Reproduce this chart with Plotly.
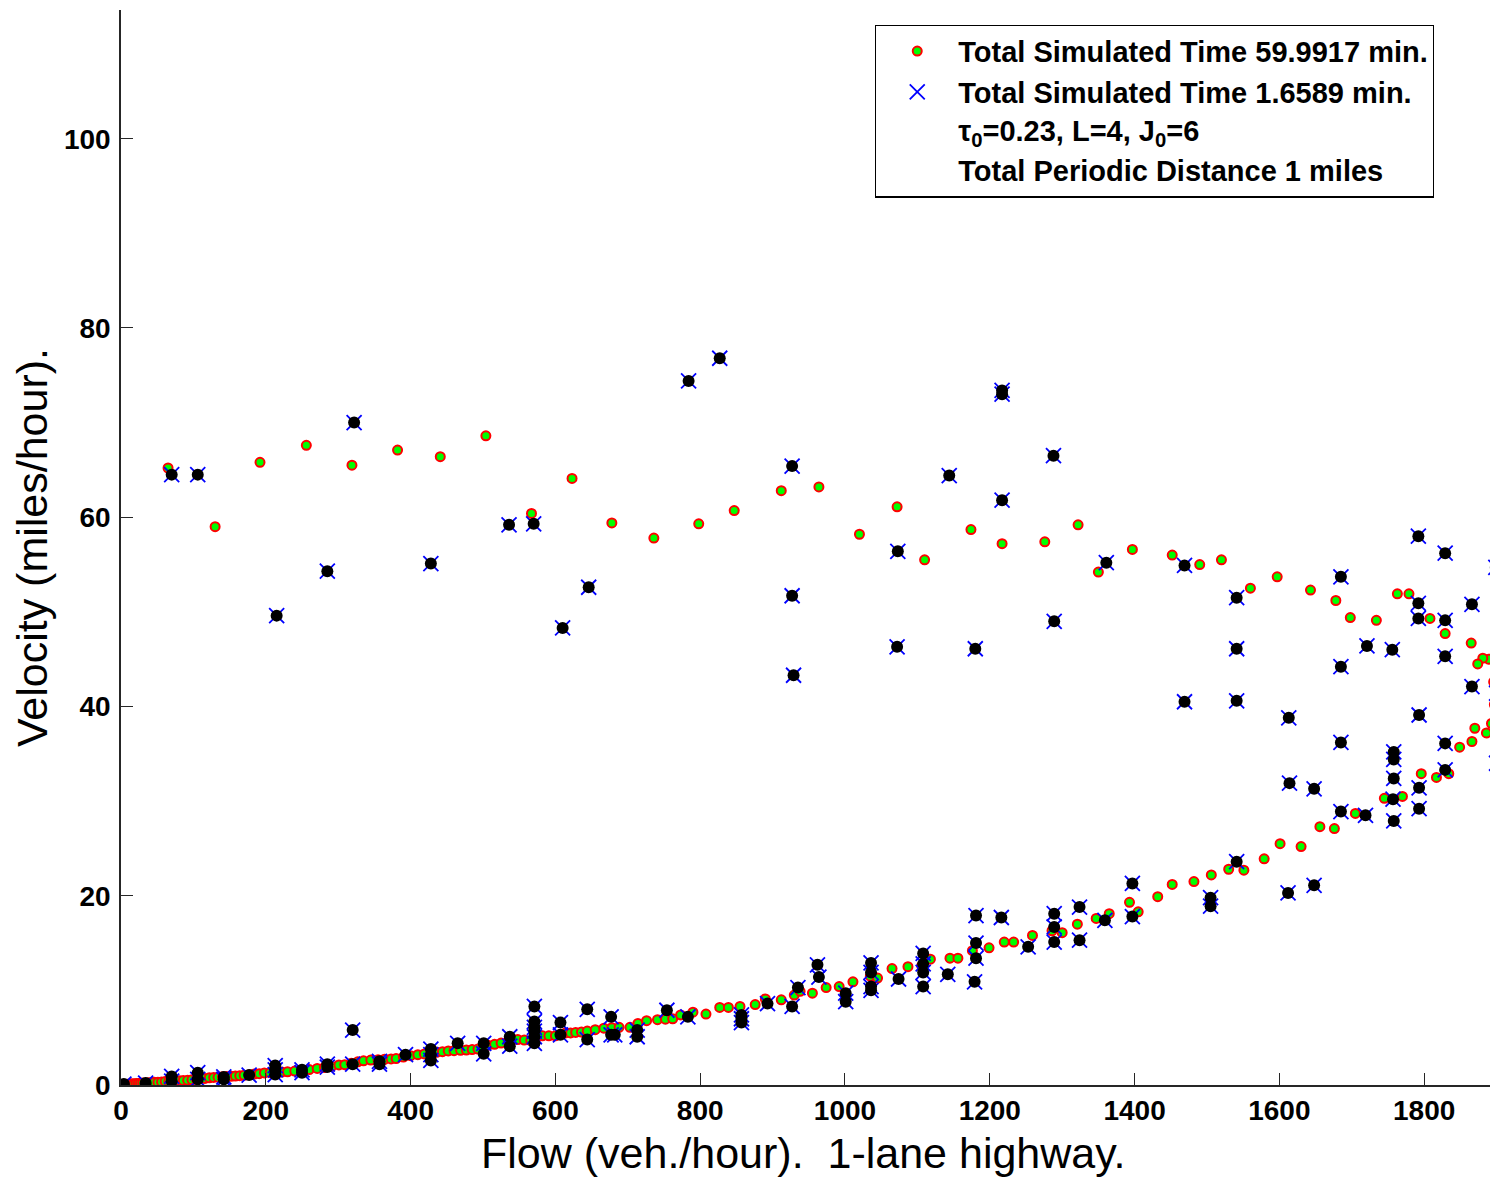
import plotly.graph_objects as go

# Series 1: Total Simulated Time 59.9917 min. (green circles, red edge)
flow_long = [0, 3, 6, 9, 12, 15, 18, 21, 24, 27, 30, 34, 38, 42, 46, 51, 56, 61, 66, 71, 76, 81, 86, 92, 98,
             104, 110, 116, 122, 128, 134, 140, 146, 152, 158, 164, 170, 177, 184, 191, 198, 206, 214, 222, 230,
             240, 250, 260, 271, 281, 291, 301, 309, 318, 327, 335, 345, 355, 364, 373, 380, 390, 400, 410, 419,
             428, 436, 444, 452, 460, 469, 477, 485, 493, 500, 507, 516, 525, 535, 548, 557, 566, 574, 582, 591,
             600, 607, 614, 621, 628, 636, 644, 655, 667, 678, 688, 703, 714, 726, 741, 752, 762, 773, 790, 808,
             827, 839, 855, 876, 890, 912, 930, 938, 955, 974, 992, 1011, 1035, 1045, 1065, 1087, 1106, 1118,
             1145, 1156, 1176, 1199, 1220, 1233, 1259, 1286, 1300, 1321, 1347, 1365, 1393, 1405, 1432, 1452,
             1482, 1506, 1530, 1551, 1579, 1601, 1630, 1656, 1676, 1705, 1745, 1770, 1796, 1817, 1834, 1849,
             1866, 1870, 1886, 1893, 1897, 1899,
             1899, 1896, 1900, 1889, 1881, 1874, 1865, 1829, 1808, 1779, 1763, 1734, 1698, 1678, 1643, 1597,
             1560, 1520, 1490, 1452, 1397, 1350, 1322, 1276, 1217, 1174, 1110, 1072, 1020, 964, 912, 847, 798,
             736, 678, 623, 567, 504, 441, 382, 319, 256, 192, 130, 65]
vel_long = [0.0, 0.02, 0.05, 0.08, 0.1, 0.12, 0.14, 0.16, 0.17, 0.19, 0.21, 0.22, 0.24, 0.26, 0.28, 0.3, 0.33,
            0.36, 0.38, 0.4, 0.43, 0.46, 0.48, 0.5, 0.55, 0.6, 0.66, 0.7, 0.76, 0.8, 0.83, 0.86, 0.89, 0.92, 0.95,
            0.99, 1.03, 1.08, 1.15, 1.2, 1.27, 1.3, 1.34, 1.37, 1.4, 1.47, 1.55, 1.63, 1.75, 1.85, 1.98, 2.12,
            2.15, 2.3, 2.45, 2.55, 2.63, 2.68, 2.72, 2.75, 2.8, 2.95, 3.1, 3.2, 3.28, 3.38, 3.46, 3.52, 3.6, 3.63,
            3.66, 3.7, 3.74, 3.8, 4.0, 4.2, 4.3, 4.43, 4.6, 4.8, 4.75, 4.7, 5.0, 5.2, 5.2, 5.2, 5.35, 5.5, 5.5,
            5.55, 5.6, 5.7, 5.85, 6.0, 6.05, 6.1, 6.1, 6.5, 6.8, 6.9, 6.95, 7.0, 7.4, 7.7, 7.5, 8.2, 8.2, 8.3,
            8.5, 9.1, 9.0, 9.5, 9.9, 9.7, 10.3, 10.4, 10.9, 11.5, 11.3, 12.3, 12.5, 12.6, 13.3, 13.4, 13.4, 14.2,
            14.5, 15.1, 15.1, 15.8, 16.3, 16.1, 17.0, 17.6, 18.1, 19.3, 18.3, 19.9, 21.2, 21.5, 22.2, 22.8, 22.7,
            23.9, 25.5, 25.2, 27.3, 27.1, 28.7, 30.3, 30.5, 32.9, 32.5, 32.9, 35.7, 36.3, 37.7, 37.2, 38.2, 40.2,
            40.3,
            43.3, 42.6, 44.7, 45.0, 45.1, 44.5, 46.7, 47.7, 49.3, 51.9, 51.9, 49.1, 49.4, 51.2, 52.3, 53.7, 52.5,
            55.5, 55.0, 56.0, 56.6, 54.2, 59.2, 57.4, 57.2, 58.7, 55.5, 61.1, 58.2, 63.2, 62.8, 60.7, 59.3, 57.8,
            59.4, 64.1, 60.4, 68.6, 66.4, 67.1, 65.5, 67.6, 65.8, 59.0, 65.2]

# Series 2: Total Simulated Time 1.6589 min. (black dots over blue crosses)
flow_short = [4, 34, 70, 70, 106, 106, 142, 142, 177, 213, 213, 213, 250, 250, 285, 285, 320, 320, 357, 357,
              393, 428, 428, 428, 465, 501, 501, 537, 537, 571, 571, 571, 571, 571, 571, 607, 607, 644, 644,
              677, 677, 682, 713, 713, 754, 783, 857, 857, 857, 893, 927, 935, 962, 964, 1001, 1001, 1036, 1036,
              1036, 1036, 1074, 1108, 1108, 1108, 1108, 1142, 1181, 1181, 1181, 1179, 1216, 1253, 1289, 1289,
              1289, 1324, 1324, 1359, 1397, 1397, 1505, 1505, 1541, 1612, 1648, 1614, 1648, 1685, 1685, 1719,
              1758, 1758, 1758, 1757, 1758, 1793, 1793, 1829, 1829, 1900,
              70, 106, 215, 285, 322, 428, 536, 570, 610, 646, 784, 827, 927, 927, 929, 1073, 1072, 1144, 1180,
              1217, 1217, 1217, 1288, 1289, 1361, 1469, 1469, 1541, 1541, 1541, 1613, 1685, 1685, 1721, 1756,
              1792, 1792, 1792, 1793, 1829, 1829, 1829, 1866, 1866, 1899, 1900]
vel_short = [0.1, 0.2, 0.4, 0.9, 0.6, 1.3, 0.85, 0.6, 1.05, 1.1, 1.6, 2.05, 1.3, 1.6, 1.9, 2.2, 5.8, 2.2, 2.5,
             2.2, 3.2, 2.6, 3.2, 3.8, 4.4, 4.4, 3.3, 5.1, 4.1, 8.3, 6.7, 5.7, 4.4, 6.1, 5.1, 6.6, 5.3, 8.0, 4.8,
             7.2, 5.3, 5.3, 5.8, 5.1, 7.9, 7.2, 7.4, 6.6, 7.0, 8.6, 8.3, 10.3, 12.7, 11.4, 9.7, 8.8, 12.9, 11.9,
             10.4, 10.0, 11.2, 13.9, 12.8, 11.9, 10.4, 11.7, 17.9, 15.0, 13.4, 10.9, 17.7, 14.6, 18.1, 16.7,
             15.1, 18.8, 15.3, 17.4, 21.3, 17.8, 19.8, 18.9, 23.6, 20.3, 21.1, 31.9, 31.3, 36.2, 28.9, 28.5,
             35.2, 34.4, 32.4, 30.2, 27.9, 31.4, 29.2, 36.1, 33.3, 34.0,
             64.5, 64.5, 49.6, 54.3, 70.0, 55.1, 59.2, 59.3, 48.3, 52.6, 74.4, 76.8, 65.4, 51.7, 43.3, 56.4,
             46.3, 64.4, 46.1, 73.0, 73.4, 61.8, 66.5, 49.0, 55.2, 54.9, 40.5, 51.5, 46.1, 40.6, 38.8, 53.7,
             44.2, 46.4, 46.0, 58.0, 50.9, 49.3, 39.1, 56.2, 49.1, 45.3, 50.8, 42.1, 54.7, 41.4]

x_ticks = [0, 200, 400, 600, 800, 1000, 1200, 1400, 1600, 1800]
y_ticks = [0, 20, 40, 60, 80, 100]
x_title = "Flow (veh./hour).\u00a0 1-lane highway."
y_title = "Velocity (miles/hour)."

FONT = "Liberation Sans, Arial, Helvetica, sans-serif"

fig = go.Figure()
fig.add_trace(go.Scatter(
    x=flow_long, y=vel_long, mode="markers",
    name="Total Simulated Time 59.9917 min.",
    marker=dict(symbol="circle", size=9, color="#00ff00", line=dict(color="#ff0000", width=2)),
))
fig.add_trace(go.Scatter(
    x=flow_short, y=vel_short, mode="markers",
    name="Total Simulated Time 1.6589 min.<br>τ<sub>0</sub>=0.23, L=4, J<sub>0</sub>=6",
    marker=dict(symbol="x-thin-open", size=15, color="#0000ff", line=dict(color="#0000ff", width=1.8)),
))
fig.add_trace(go.Scatter(
    x=flow_short, y=vel_short, mode="markers", showlegend=False, hoverinfo="skip",
    marker=dict(symbol="circle", size=12, color="#000000", line=dict(width=0)),
))
fig.add_trace(go.Scatter(
    x=[None], y=[None], mode="markers",
    name="Total Periodic Distance 1 miles",
    marker=dict(size=1, color="rgba(0,0,0,0)"),
))

# x-axis title as a paper-anchored annotation for exact placement
fig.add_annotation(
    text=x_title, xref="paper", yref="paper", x=0.496, y=0, xanchor="center", yanchor="middle",
    yshift=-68, showarrow=False, font=dict(size=43, family=FONT, color="black"),
)

# the page body adds an 8 px margin, so the figure is made smaller and margins are offset
fig.update_layout(
    width=1490, height=1171,
    margin=dict(l=113, r=0, t=2, b=94, pad=0),
    paper_bgcolor="white", plot_bgcolor="white",
    font=dict(family=FONT, color="black"),
    legend=dict(
        x=0.5476, y=0.9865, xanchor="left", yanchor="top",
        bgcolor="white", bordercolor="black", borderwidth=1.2,
        font=dict(size=29, family=FONT, color="black", weight="bold"),
        itemwidth=72, valign="top", tracegroupgap=0,
    ),
    xaxis=dict(
        range=[0, 1902], tickvals=x_ticks, ticks="inside", ticklen=12, tickwidth=1.3, tickcolor="#262626",
        showline=True, linecolor="#262626", linewidth=1.5, showgrid=False, zeroline=False, automargin=False,
        tickfont=dict(size=28, family=FONT, color="black", weight="bold"),
    ),
    yaxis=dict(
        range=[0, 113.6], tickvals=y_ticks, ticks="inside", ticklen=12, tickwidth=1.3, tickcolor="#262626",
        showline=True, linecolor="#262626", linewidth=1.5, showgrid=False, zeroline=False, automargin=False,
        tickfont=dict(size=28, family=FONT, color="black", weight="bold"), ticklabelstandoff=3,
        title=dict(text=y_title, font=dict(size=43, family=FONT, color="black"), standoff=10),
    ),
)

fig.write_html("out.html")
